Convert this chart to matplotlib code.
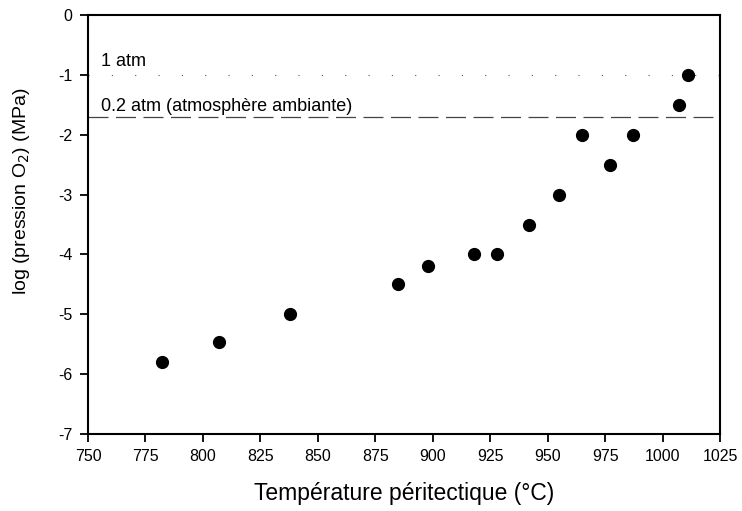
import matplotlib
matplotlib.use("Agg")
import matplotlib.pyplot as plt

plt.rcParams['font.family'] = ['Liberation Sans', 'DejaVu Sans']
plt.rcParams['axes.unicode_minus'] = False

# data
temperature = [782, 807, 838, 885, 898, 918, 928, 942, 955, 965, 977, 987, 1007, 1011]
log_p_o2 = [-5.8, -5.46, -5.0, -4.5, -4.2, -4.0, -4.0, -3.5, -3.0, -2.0, -2.5, -2.0, -1.5, -1.0]

ref_1atm = -1.0
ref_02atm = -1.7
x_ticks = list(range(750, 1026, 25))
y_ticks = list(range(-7, 1))

fig = plt.figure(figsize=(7.42, 5.11), dpi=100)
ax = fig.add_axes([88 / 742, 1 - 434 / 511, (720 - 88) / 742, (434 - 15) / 511])

ax.axhline(ref_1atm, color='#555555', lw=0.8, dashes=(1, 20), zorder=1)
ax.axhline(ref_02atm, color='#444444', lw=0.9, dashes=(16, 6), zorder=1)
ax.plot(temperature, log_p_o2, 'o', color='black', ms=8.5, zorder=3)

ax.text(755.5, -0.86, "1 atm", fontsize=13)
ax.text(755.5, -1.6, "0.2 atm (atmosphère ambiante)", fontsize=13)

ax.set_xlim(750, 1025)
ax.set_ylim(-7, 0)
ax.set_xticks(x_ticks)
ax.set_yticks(y_ticks)
ax.tick_params(direction='out', length=6, width=1.3, labelsize=11.5, pad=5)
for s in ax.spines.values():
    s.set_linewidth(1.5)

ax.set_xlabel("Température péritectique (°C)", fontsize=16.5)
ax.xaxis.set_label_coords(0.5, -0.115)
ax.set_ylabel("log (pression O$_2$) (MPa)", fontsize=14)
ax.yaxis.set_label_coords(-0.088, 1 - (191 - 15) / 419)

fig.savefig("out.png", dpi=100)
